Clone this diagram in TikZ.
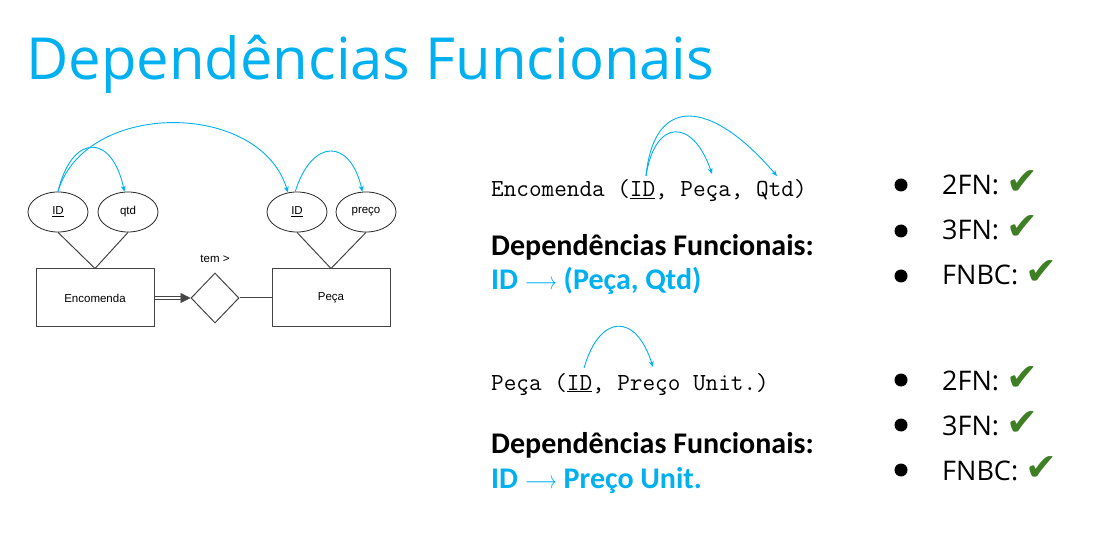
\documentclass[tikz,border=0pt]{standalone}
\usepackage{fontspec}
\setmainfont{Carlito}
\newfontfamily\titlefont{Open Sans}
\newfontfamily\erfont{Liberation Sans}
\newfontfamily\symfont{DejaVu Sans}
\usetikzlibrary{shapes.geometric,arrows.meta,calc}
\definecolor{fdblue}{HTML}{00B0F0}
\definecolor{okgreen}{HTML}{3E7F24}
\definecolor{erline}{HTML}{444444}
\newcommand{\okmark}{{\symfont\fontsize{38}{40}\selectfont\color{okgreen}✔}}
\newcommand{\fdarrow}{\scalebox{0.8}[1]{$\longrightarrow$}}
\begin{document}
\begin{tikzpicture}[x=1pt,y=-1pt,
  erfontsz/.style={font=\erfont\fontsize{11.5}{13}\selectfont},
  attr/.style={ellipse, draw=black!85, line width=0.8pt, minimum width=60pt,
    minimum height=40pt, inner sep=0pt, erfontsz},
  entity/.style={rectangle, draw=erline, line width=1pt, minimum width=118pt,
    minimum height=58pt, erfontsz},
  relship/.style={diamond, draw=erline, line width=1pt, minimum width=48pt,
    minimum height=50pt, inner sep=0pt},
  erlink/.style={draw=erline, line width=1pt},
  dep/.style={draw=fdblue, line width=0.9pt, -{Stealth[length=6pt,width=5pt]}},
  txt/.style={anchor=base west, inner sep=0pt},
  codetxt/.style={txt, font=\ttfamily\fontsize{24.5}{26}\selectfont},
  boldtxt/.style={txt, font=\bfseries\fontsize{30}{34}\selectfont},
  nftxt/.style={txt, font=\titlefont\fontsize{27}{30}\selectfont},
  bulletdot/.style={circle, fill=black, minimum size=13pt, inner sep=0pt}
]
\useasboundingbox (0,0) rectangle (1114,553);

% title
\node[txt, font=\titlefont\fontsize{58}{62}\selectfont, text=fdblue] (title) at (26,80) {Dependências Funcionais};

% ER diagram
\node[entity] (enc) at (95,298) {Encomenda};
\node[entity] (peca) at (331,298) {Peça};
\node[relship] (tem) at (215,298) {};
\node[erfontsz, inner sep=0pt] (temlbl) at (215,259) {tem >};
\node[attr] (idA) at (58,212) {\underline{ID}};
\node[attr] (qtd) at (128,212) {qtd};
\node[attr] (idB) at (297,212) {\underline{ID}};
\node[attr] (preco) at (366,212) {preço};

\draw[erlink] (idA.south) -- (enc.north);
\draw[erlink] (qtd.south) -- (enc.north);
\draw[erlink] (idB.south) -- (peca.north);
\draw[erlink] (preco.south) -- (peca.north);
\draw[erlink, double distance=2pt, shorten >=9pt] (enc.east) -- (tem.west);
\draw[-{Triangle[length=10pt,width=10pt]}, erline, line width=0.6pt] ($(tem.west)+(-10,0)$) -- (tem.west);
\draw[erlink] (tem.east) -- (peca.west);

% dependency arcs in the ER diagram
\draw[dep] (idA.north) .. controls (72,133) and (112,133) .. (qtd.100);
\draw[dep] (idA.north) .. controls (85,100) and (260,100) .. (idB.115);
\draw[dep] (idB.95) .. controls (312,138) and (350,138) .. (preco.100);

% relation Encomenda
\node[codetxt] (rel1) at (491,197) {Encomenda (\underline{ID}, Peça, Qtd)};
\coordinate (src1) at (646,176);
\coordinate (tgt1a) at (712,174);
\coordinate (tgt1b) at (777,176);
\draw[dep] (src1) .. controls (655,118) and (693,118) .. (tgt1a);
\draw[dep] (src1) .. controls (654,95) and (710,98) .. (tgt1b);
\node[boldtxt] (dep1) at (491,256) {Dependências Funcionais:};
\node[boldtxt, text=fdblue] (fd1) at (491,290) {ID \fdarrow{} (Peça, Qtd)};

% relation Peça
\node[codetxt] (rel2) at (491,390) {Peça (\underline{ID}, Preço Unit.)};
\coordinate (src2) at (584,368);
\coordinate (tgt2) at (653,367);
\draw[dep] (src2) .. controls (600,313) and (636,313) .. (tgt2);
\node[boldtxt] (dep2) at (491,453) {Dependências Funcionais:};
\node[boldtxt, text=fdblue] (fd2) at (491,488) {ID \fdarrow{} Preço Unit.};

% normal form checklists
\node[bulletdot] (b1) at (901,185) {};
\node[bulletdot] (b2) at (901,231) {};
\node[bulletdot] (b3) at (901,276) {};
\node[nftxt] (n1) at (942,195) {2FN: \okmark};
\node[nftxt] (n2) at (942,240) {3FN: \okmark};
\node[nftxt] (n3) at (942,285) {FNBC: \okmark};

\node[bulletdot] (b4) at (901,380) {};
\node[bulletdot] (b5) at (901,425) {};
\node[bulletdot] (b6) at (901,470) {};
\node[nftxt] (n4) at (942,390) {2FN: \okmark};
\node[nftxt] (n5) at (942,435) {3FN: \okmark};
\node[nftxt] (n6) at (942,480) {FNBC: \okmark};
\end{tikzpicture}
\end{document}
